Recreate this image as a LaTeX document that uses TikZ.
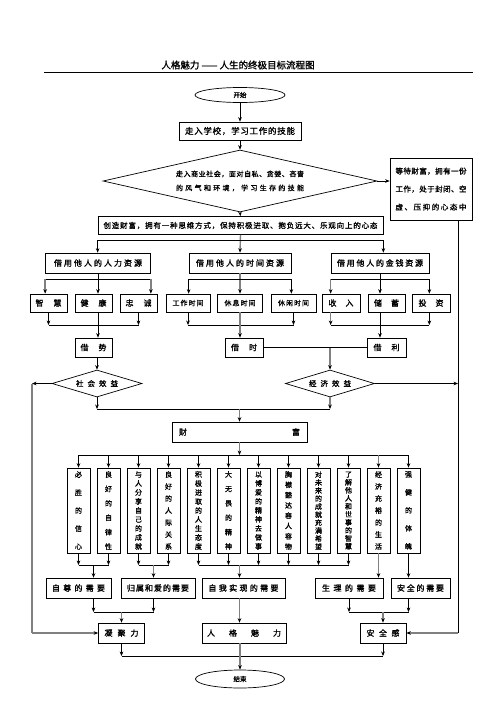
\documentclass[tikz,border=0pt]{standalone}
\usepackage{fontspec}
\setmainfont{Noto Sans CJK SC}[AutoFakeBold=1.3]
\usetikzlibrary{arrows.meta,shapes.geometric}
\def\sprA#1{#1\sprB}
\def\sprB#1{\ifx\relax#1\else\hfill#1\expandafter\sprB\fi}
\newcommand\spr[2]{\makebox[#1][s]{\sprA#2\relax}}
\newcommand\ff[1]{\bfseries\fontsize{#1}{#1}\selectfont}
\begin{document}
\begin{tikzpicture}[x=1pt,y=-1pt,
 bx/.style={draw,line width=0.7pt,inner sep=0pt,minimum height=19pt,font=\ff{8}},
 vb/.style={draw,line width=0.7pt,inner sep=0pt,minimum width=23pt,minimum height=85pt,align=center},
 el/.style={draw,ellipse,line width=0.7pt,inner sep=0pt,font=\ff{6.5}},
 dm/.style={draw,diamond,line width=0.7pt,inner sep=0pt},
 ln/.style={line width=0.6pt},
 ar/.style={ln,-{Stealth[length=4.5pt,width=3.6pt]}},
 gl/.style={draw=black!50,line width=1.4pt},
 ga/.style={gl,-{Stealth[length=4.5pt,width=3.6pt,color=black]}},
]
\newcommand\vcol[4]{\node[vb,font=\bfseries\fontsize{7}{#3}\selectfont] (#1) at (#2,510.5) {#4};}
\fill[white] (0,0) rectangle (496,702);
\useasboundingbox (0,0) rectangle (496,702);

% title
\node[font=\ff{9.5}] (title) at (238,65) {人格魅力 —— 人生的终极目标流程图};
\coordinate (rl) at (44,72); \coordinate (rr) at (473,72);
\draw[line width=0.8pt] (rl) -- (rr);

% top part
\node[el,minimum width=90pt,minimum height=15pt] (start) at (240,95) {开始};
\node[bx,minimum width=122pt,minimum height=18pt,font=\ff{8.5}] (b1) at (240,131) {\spr{110pt}{走入学校，学习工作的技能}};
\node[dm,minimum width=274pt,minimum height=62pt,aspect=4.4,align=center,font=\bfseries\fontsize{7}{14}\selectfont] (d1) at (240,181)
  {\spr{128pt}{走入商业社会，面对自私、贪婪、吝啬}\\\spr{128pt}{的风气和环境，学习生存的技能}};
\node[bx,minimum width=82pt,minimum height=62pt,align=center,font=\bfseries\fontsize{7.5}{18}\selectfont] (rb) at (431,189)
  {\spr{71pt}{等待财富，拥有一份}\\\spr{71pt}{工作，处于封闭、空}\\\spr{71pt}{虚、压抑的心态中}};
\node[bx,minimum width=285pt,minimum height=18pt,font=\ff{7.5}] (cb) at (240.5,225.5) {\spr{274pt}{创造财富，拥有一种思维方式，保持积极进取、抱负远大、乐观向上的心态}};

\draw[ar] (start) -- (b1);
\draw[ar] (b1) -- (d1.north);
\draw[ar] (d1.east) -- (d1.east -| rb.west);
\draw[ga] (d1.south) -- (cb.north);

% resources
\node[bx,minimum width=105pt,minimum height=20pt] (ra) at (98,263) {\spr{88pt}{借用他人的人力资源}};
\node[bx,minimum width=102pt,minimum height=20pt] (rbx) at (240,263) {\spr{88pt}{借用他人的时间资源}};
\node[bx,minimum width=98pt,minimum height=20pt] (rc) at (380,263) {\spr{86pt}{借用他人的金钱资源}};

\coordinate (t1) at (0,240);
\draw[ga] (cb.south) -- (rbx.north);
\draw[ln] (cb.south west |- t1) -- (cb.south east |- t1);
\draw[ar] (cb.south west |- t1) -- (cb.south west |- ra.north);
\draw[ar] (cb.south east |- t1) -- (cb.south east |- rc.north);

% small boxes
\node[bx,minimum width=37pt,minimum height=18pt] (zh) at (48.5,303) {\spr{26pt}{智慧}};
\node[bx,minimum width=37pt,minimum height=18pt] (jk) at (93.5,303) {\spr{26pt}{健康}};
\node[bx,minimum width=37pt,minimum height=18pt] (zc) at (138.5,303) {\spr{26pt}{忠诚}};
\node[bx,minimum width=44pt,minimum height=18pt,font=\ff{7}] (gz) at (188,303) {\spr{31pt}{工作时间}};
\node[bx,minimum width=45pt,minimum height=18pt,font=\ff{7}] (xx) at (240,303) {\spr{31pt}{休息时间}};
\node[bx,minimum width=45pt,minimum height=18pt,font=\ff{7}] (xxj) at (293.5,303) {\spr{31pt}{休闲时间}};
\node[bx,minimum width=38pt,minimum height=18pt] (sr) at (341,303) {\spr{25pt}{收入}};
\node[bx,minimum width=37pt,minimum height=18pt] (cx) at (386.5,303) {\spr{25pt}{储蓄}};
\node[bx,minimum width=38pt,minimum height=18pt] (tz) at (431,303) {\spr{25pt}{投资}};

\coordinate (t2) at (0,279);
\draw[ar] (ra.south) -- (ra.south |- jk.north);
\draw[ln] (ra.south west |- t2) -- (ra.south east |- t2);
\draw[ga] (ra.south west |- t2) -- (ra.south west |- zh.north);
\draw[ga] (ra.south east |- t2) -- (ra.south east |- zc.north);
\draw[ga] (rbx.south) -- (rbx.south |- xx.north);
\draw[ln] (rbx.south west |- t2) -- (rbx.south east |- t2);
\draw[ar] (rbx.south west |- t2) -- (rbx.south west |- gz.north);
\draw[ar] (rbx.south east |- t2) -- (rbx.south east |- xxj.north);
\draw[ar] (rc.south) -- (rc.south |- cx.north);
\draw[ln] (rc.south west |- t2) -- (rc.south east |- t2);
\draw[ga] (rc.south west |- t2) -- (rc.south west |- sr.north);
\draw[ar] (rc.south east |- t2) -- (rc.south east |- tz.north);

% borrow boxes
\node[bx,minimum width=37pt,minimum height=19pt] (js) at (93.5,347.5) {\spr{26pt}{借势}};
\node[bx,minimum width=38pt,minimum height=19pt] (jsh) at (244,347.5) {\spr{26pt}{借时}};
\node[bx,minimum width=39pt,minimum height=19pt] (jl) at (386.5,347.5) {\spr{26pt}{借利}};

\coordinate (t3) at (0,325);
\draw[ar] (zh.south) -- (zh.south |- t3);
\draw[ar] (zc.south) -- (zc.south |- t3);
\draw[ln] (zh.south |- t3) -- (zc.south |- t3);
\draw[ar] (ra.south |- jk.south) -- (ra.south |- js.north);
\draw[ar] (gz.south) -- (gz.south |- t3);
\draw[ar] (xxj.south) -- (xxj.south |- t3);
\draw[ln] (gz.south |- t3) -- (xxj.south |- t3);
\draw[ga] (xx.south) -- (xx.south |- jsh.north);
\draw[ga] (rc.south west |- sr.south) -- (rc.south west |- t3);
\draw[ar] (rc.south east |- tz.south) -- (rc.south east |- t3);
\draw[ln] (rc.south west |- t3) -- (rc.south east |- t3);
\draw[ar] (rc.south |- cx.south) -- (rc.south |- jl.north);

% benefit diamonds
\node[dm,minimum width=90pt,minimum height=27pt,aspect=3.3,font=\ff{7.5}] (sh) at (97,383.5) {\spr{42pt}{社会效益}};
\node[dm,minimum width=89pt,minimum height=27pt,aspect=3.3,font=\ff{7.5}] (jx) at (330,383.5) {\spr{42pt}{经济效益}};

\draw[ln] (jsh.east) -- (jl.west);
\draw[ga] (jsh.east -| jx.north) -- (jx.north);
\draw[ar] (sh.north |- js.south) -- (sh.north);

\coordinate (lc) at (32,383.5);
\coordinate (rv) at (458,0);
\draw[ar] (sh.west) -- (lc);
\draw[ar] (jx.east) -- (rv |- jx.east);

% wealth
\node[bx,minimum width=135pt,minimum height=20pt] (cf) at (239.5,432) {\spr{121pt}{财富}};
\coordinate (t4) at (0,409);
\draw[ar] (sh.south) -- (sh.south |- t4);
\draw[ga] (jx.south) -- (jx.south |- t4);
\draw[ln] (sh.south |- t4) -- (jx.south |- t4);
\draw[ga] (cf.north |- t4) -- (cf.north);

% vertical boxes
\vcol{v1}{78.5}{18}{必\\胜\\的\\信\\心}
\vcol{v2}{108.5}{14.4}{良\\好\\的\\自\\律\\性}
\vcol{v3}{138.5}{9}{与\\人\\分\\享\\自\\己\\的\\成\\就}
\vcol{v4}{168.5}{12}{良\\好\\的\\人\\际\\关\\系}
\vcol{v5}{198.5}{9}{积\\极\\进\\取\\的\\人\\生\\态\\度}
\vcol{v6}{228.5}{14.4}{大\\无\\畏\\的\\精\\神}
\vcol{v7}{258.5}{9}{以\\博\\爱\\的\\精\\神\\去\\做\\事}
\vcol{v8}{288.5}{10.3}{胸\\襟\\豁\\达\\容\\人\\容\\物}
\vcol{v9}{318.5}{8}{对\\未\\来\\的\\成\\就\\充\\满\\希\\望}
\vcol{v10}{348.5}{8}{了\\解\\他\\人\\和\\世\\事\\的\\智\\慧}
\vcol{v11}{378.5}{12}{经\\济\\充\\裕\\的\\生\\活}
\vcol{v12}{408.5}{18}{强\\健\\的\\体\\魄}

\coordinate (t5) at (0,455);
\draw[ga] (cf.south) -- (cf.south |- t5);
\draw[ln] (v1.north |- t5) -- (v12.north |- t5);
\foreach \i in {1,...,10,12} {\draw[ar] (v\i.north |- t5) -- (v\i.north);}
\draw[ga] (v11.north |- t5) -- (v11.north);

% needs
\node[bx,minimum width=65pt,minimum height=20pt] (zz) at (78.5,588) {\spr{53pt}{自尊的需要}};
\node[bx,minimum width=74pt,minimum height=20pt] (gs) at (158,588) {\spr{62pt}{归属和爱的需要}};
\node[bx,minimum width=83pt,minimum height=20pt] (zw) at (243.5,588) {\spr{70pt}{自我实现的需要}};
\node[bx,minimum width=68pt,minimum height=20pt] (sl) at (349,588) {\spr{54pt}{生理的需要}};
\node[bx,minimum width=59pt,minimum height=20pt] (aq) at (420.5,588) {\spr{47pt}{安全的需要}};

\coordinate (t6) at (0,565);
\coordinate (m1) at (93.5,0);
\coordinate (m2) at (153.5,0);
\foreach \i in {1,...,10} {\draw[ar] (v\i.south) -- (v\i.south |- t6);}
\draw[ln] (v1.south |- t6) -- (v2.south |- t6);
\draw[ln] (v3.south |- t6) -- (v4.south |- t6);
\draw[ln] (v5.south |- t6) -- (v10.south |- t6);
\draw[ar] (m1 |- t6) -- (m1 |- zz.north);
\draw[ga] (m2 |- t6) -- (m2 |- gs.north);
\draw[ga] (cf.south |- t6) -- (cf.south |- zw.north);
\draw[ga] (v11.south) -- (v11.south |- sl.north);
\draw[ar] (v12.south) -- (v12.south |- aq.north);

% results
\node[bx,minimum width=46pt,minimum height=20pt] (nj) at (121.5,633) {\spr{34pt}{凝聚力}};
\node[bx,minimum width=84pt,minimum height=20pt] (rg) at (244,633) {\spr{74pt}{人格魅力}};
\node[bx,minimum width=46pt,minimum height=20pt] (aqg) at (383,633) {\spr{33pt}{安全感}};

\coordinate (t7) at (0,612);
\draw[ar] (m1 |- zz.south) -- (m1 |- t7);
\draw[ar] (m2 |- gs.south) -- (m2 |- t7);
\draw[ln] (m1 |- t7) -- (m2 |- t7);
\draw[ga] (nj.north |- t7) -- (nj.north);
\draw[ga] (cf.south |- zw.south) -- (cf.south |- rg.north);
\draw[ar] (sl.south) -- (sl.south |- t7);
\draw[ar] (v12.south |- aq.south) -- (v12.south |- t7);
\draw[ln] (sl.south |- t7) -- (v12.south |- t7);
\draw[ga] (aqg.north |- t7) -- (aqg.north);

% side lines
\draw[gl] (lc) -- (lc |- nj.west);
\draw[ga] (lc |- nj.west) -- (nj.west);
\draw[ln] (rv |- rb.south) -- (rv |- aqg.east);
\draw[ga] (rv |- aqg.east) -- (aqg.east);

% end
\node[el,minimum width=89pt,minimum height=18pt] (fin) at (240,679) {结束};
\coordinate (t8) at (0,656);
\draw[ar] (nj.south) -- (nj.south |- t8);
\draw[ar] (aqg.south) -- (aqg.south |- t8);
\draw[ln] (nj.south |- t8) -- (aqg.south |- t8);
\draw[ga] (fin.north |- rg.south) -- (fin.north);
\end{tikzpicture}
\end{document}
